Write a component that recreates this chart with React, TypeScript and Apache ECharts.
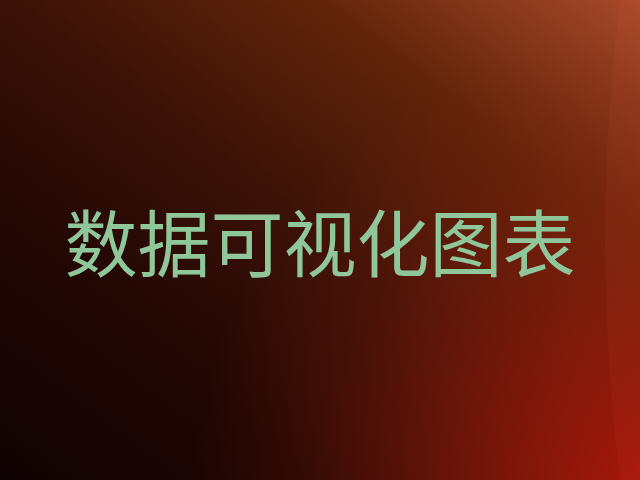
import React, { useEffect, useRef } from "react";
import * as echarts from "echarts";

const TITLE_TEXT = "数据可视化图表";
const TITLE_COLOR = "#8fc69a";
const BASE_STOPS: [number, string][] = [
  [0, "#100303"],
  [0.25, "#1f0603"],
  [0.5, "#3a1107"],
  [0.75, "#62250a"],
  [1, "#a8492b"],
];
const RED_STOPS: [number, string][] = [
  [0, "rgba(185,22,10,0.95)"],
  [0.4, "rgba(160,28,12,0.6)"],
  [0.75, "rgba(145,32,15,0.2)"],
  [1, "rgba(140,30,15,0)"],
];

export default function App() {
  const ref = useRef<HTMLDivElement>(null);
  useEffect(() => {
    if (!ref.current) return;
    const chart = echarts.init(ref.current, undefined, { renderer: "svg" });
    chart.setOption({
      animation: false,
      backgroundColor: "#2a0a05",
      graphic: [
        {
          type: "rect",
          left: 0,
          top: 0,
          shape: { width: 640, height: 480 },
          style: {
            fill: {
              type: "linear",
              x: 0,
              y: 1,
              x2: 1,
              y2: 0,
              colorStops: BASE_STOPS.map(([offset, color]) => ({ offset, color })),
            },
          },
          silent: true,
        },
        {
          type: "rect",
          left: 0,
          top: 0,
          shape: { width: 640, height: 480 },
          style: {
            fill: {
              type: "radial",
              x: 670,
              y: 500,
              r: 480,
              global: true,
              colorStops: RED_STOPS.map(([offset, color]) => ({ offset, color })),
            },
          },
          silent: true,
        },
        {
          type: "circle",
          shape: { cx: 2532, cy: 240, r: 1927 },
          style: { fill: "rgba(255,120,80,0.06)" },
          silent: true,
        },
        {
          type: "text",
          x: 320,
          y: 239,
          style: {
            text: TITLE_TEXT,
            fill: TITLE_COLOR,
            fontSize: 73,
            fontFamily: "Noto Sans CJK SC",
            textAlign: "center",
            textVerticalAlign: "middle",
          },
        },
      ],
    });
    return () => chart.dispose();
  }, []);
  return (
    <div
      ref={ref}
      style={{ position: "fixed", left: 0, top: 0, width: 640, height: 480 }}
    />
  );
}
